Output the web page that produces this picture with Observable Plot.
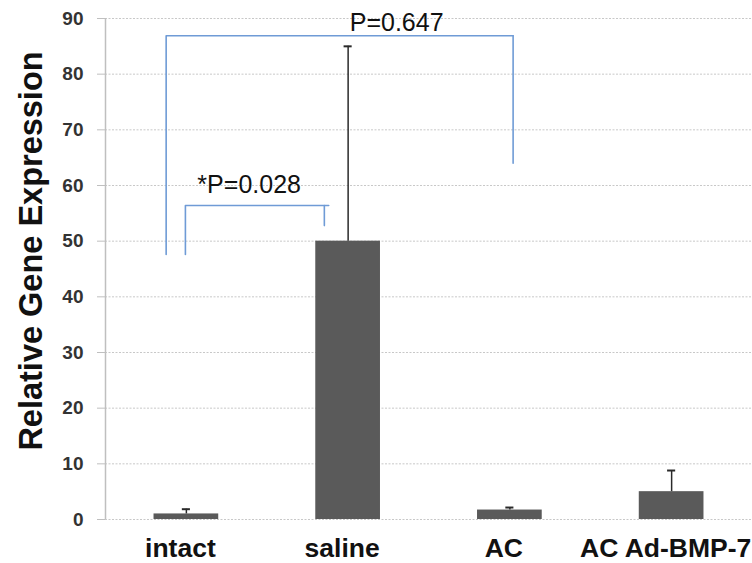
<!DOCTYPE html>
<html>
<head>
<meta charset="utf-8">
<script src="https://cdn.jsdelivr.net/npm/d3@7"></script>
<script src="https://cdn.jsdelivr.net/npm/@observablehq/plot@0.6"></script>
<style>
  html, body { margin: 0; padding: 0; background: #fff; }
  #chart svg { display: block; }
</style>
</head>
<body>
<div id="chart"></div>
<script>
// ---- data ----
const categories = ["intact", "saline", "AC", "AC Ad-BMP-7"];
const means = [1.0, 50, 1.7, 5.0];
const errorTops = [1.85, 85, 2.15, 8.8];
const yTicks = [0, 10, 20, 30, 40, 50, 60, 70, 80, 90];

// significance brackets (x in category-index units, y in data units)
const bracketLabels = ["P=0.647", "*P=0.028"];
const bracketLabelX = [1.01, 0.068];
const bracketLabelY = [87.8, 58.7];
const bracketLeftX = [-0.125, -0.006];
const bracketRightX = [2.02, 0.853];
const bracketBarEndX = [2.02, 0.88];
const bracketTopY = [86.9, 56.4];
const bracketLeftBottomY = [47.6, 47.6];
const bracketRightBottomY = [64, 52.8];

const yLabel = "Relative Gene Expression";

// ---- build tables ----
const bars = categories.map((c, i) => ({i, c, v: means[i], e: errorTops[i]}));
const halfBar = 0.2;
const halfCap = 0.025;

const bracketPaths = [];
bracketLabels.forEach((b, k) => {
  bracketPaths.push({k, part: "a", x: bracketLeftX[k], y: bracketLeftBottomY[k]});
  bracketPaths.push({k, part: "a", x: bracketLeftX[k], y: bracketTopY[k]});
  bracketPaths.push({k, part: "a", x: bracketBarEndX[k], y: bracketTopY[k]});
  bracketPaths.push({k, part: "b", x: bracketRightX[k], y: bracketTopY[k]});
  bracketPaths.push({k, part: "b", x: bracketRightX[k], y: bracketRightBottomY[k]});
});
const bracketText = bracketLabels.map((t, k) => ({t, x: bracketLabelX[k], y: bracketLabelY[k]}));

const FONT = "'Liberation Sans', Arial, sans-serif";
const blue = "#6f9bd6";

const chart = Plot.plot({
  width: 752,
  height: 563,
  marginLeft: 105,
  marginRight: 0,
  marginTop: 18,
  marginBottom: 44,
  style: {fontFamily: FONT, background: "#fff", overflow: "visible"},
  x: {domain: [-0.5, 3.5], axis: null},
  y: {domain: [0, 90], axis: null},
  marks: [
    Plot.gridY(yTicks, {stroke: "#c8c8c8", strokeOpacity: 1, strokeDasharray: "2,1.5", strokeWidth: 1}),
    Plot.axisY(yTicks, {
      tickSize: 8, tickPadding: 14, stroke: "#bfbfbf",
      fontSize: 19, fontWeight: "bold", fill: "#333",
      label: null
    }),
    Plot.ruleX([-0.5], {y1: 0, y2: 90, stroke: "#bfbfbf", strokeWidth: 1.5}),
    Plot.axisX(categories.map((c, i) => i), {
      tickSize: 0, tickPadding: 19, fontSize: 26.5, fontWeight: "bold", fill: "#111",
      tickFormat: (i) => categories[i], dx: -6, label: null
    }),
    Plot.rectY(bars, {x1: d => d.i - halfBar, x2: d => d.i + halfBar, y1: 0, y2: "v", fill: "#5a5a5a"}),
    Plot.ruleX(bars, {x: "i", y1: "v", y2: "e", stroke: "#2a2a2a", strokeWidth: 1.5}),
    Plot.ruleY(bars, {y: "e", x1: d => d.i - halfCap, x2: d => d.i + halfCap, stroke: "#2a2a2a", strokeWidth: 2}),
    Plot.line(bracketPaths, {x: "x", y: "y", z: d => d.k + d.part, stroke: blue, strokeWidth: 1.6, curve: "linear"}),
    Plot.text(bracketText, {x: "x", y: "y", text: "t", textAnchor: "start", lineAnchor: "bottom", fontSize: 25, fill: "#111"}),
    Plot.text([yLabel], {
      frameAnchor: "left", rotate: -90, lineAnchor: "bottom", textAnchor: "middle",
      dx: -64, dy: -18, fontSize: 32.5, fontWeight: "bold", fill: "#111"
    })
  ]
});
document.getElementById("chart").appendChild(chart);
</script>
</body>
</html>
